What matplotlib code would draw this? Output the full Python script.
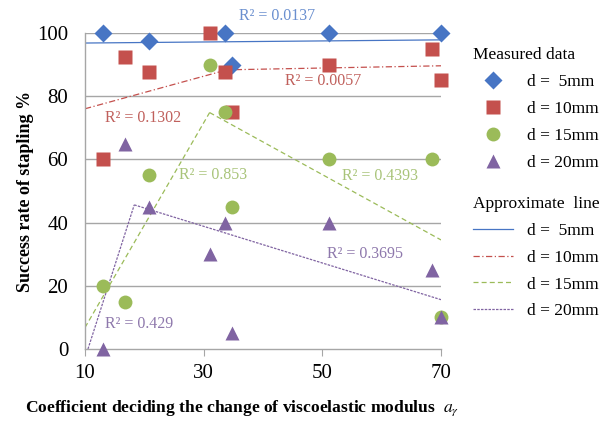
import matplotlib
matplotlib.use("Agg")
import matplotlib.pyplot as plt
from matplotlib.lines import Line2D

plt.rcParams['font.family'] = ['Liberation Serif', 'DejaVu Serif']
plt.rcParams['mathtext.fontset'] = 'stix'

# Coefficient a_gamma for each test
a_gamma = [13, 16.8, 20.8, 31, 33.6, 34.8, 51.2, 68.4, 70]

# Success rate (%) per staple size d
rate_5 = [100, None, 97.5, None, 100, 90, 100, None, 100]
rate_10 = [60, 92.5, 87.5, 100, 87.5, 75, 90, 95, 85]
rate_15 = [20, 15, 55, 90, 75, 45, 60, 60, 10]
rate_20 = [0, 65, 45, 30, 40, 5, 40, 25, 10]

# Approximate lines: (x, y) end points of each segment
fit_5 = [([10, 70], [96.8, 97.8])]
fit_10 = [([10, 33.3], [76, 88.0]), ([33.3, 70], [88.3, 89.6])]
fit_15 = [([10, 31], [6.8, 74.8]), ([31, 70], [74.8, 34.5])]
fit_20 = [([10.5, 18.3], [0, 45.6]), ([18.3, 70], [45.6, 15.6])]

# R^2 labels: (x, y, text)
r2_5 = [(42.4, 105.2, "R² = 0.0137")]
r2_10 = [(50.1, 84.9, "R² = 0.0057"), (19.8, 73.2, "R² = 0.1302")]
r2_15 = [(31.6, 54.9, "R² = 0.853"), (59.7, 54.6, "R² = 0.4393")]
r2_20 = [(57.2, 30.0, "R² = 0.3695"), (19.1, 7.9, "R² = 0.429")]

labels = ["d =  5mm", "d = 10mm", "d = 15mm", "d = 20mm"]
colors = ["#4775C4", "#C4504D", "#9BBB59", "#8064A2"]
text_colors = ["#6A8FCF", "#C0605C", "#A9C47A", "#8E78AC"]
markers = ["D", "s", "o", "^"]
msizes = [9, 9.5, 10, 9.5]
dashes = [None, (5, 2, 1, 2), (4, 2.5), (2, 1)]

rates = [rate_5, rate_10, rate_15, rate_20]
fits = [fit_5, fit_10, fit_15, fit_20]
r2s = [r2_5, r2_10, r2_15, r2_20]

fig = plt.figure(figsize=(6.05, 4.22), dpi=100)
ax = fig.add_axes([0.1405, 0.173, 0.5885, 0.749])

grid_c = "#A6A6A6"
for yv in [20, 40, 60, 80, 100]:
    ax.axhline(yv, color=grid_c, lw=1.0, zorder=1)

marker_handles = []
line_handles = []
for i in range(4):
    # fitted segments
    for xs, ys in fits[i]:
        ln = ax.plot(xs, ys, color=colors[i], lw=0.9, zorder=2)[0]
        if dashes[i] is not None:
            ln.set_dashes(dashes[i])
    # measured points
    px = [x for x, y in zip(a_gamma, rates[i]) if y is not None]
    py = [y for y in rates[i] if y is not None]
    ax.plot(px, py, linestyle="none", marker=markers[i], ms=msizes[i],
            color=colors[i], mec="none", zorder=3 + i, clip_on=False)
    for tx, ty, s in r2s[i]:
        ax.text(tx, ty, s, color=text_colors[i], fontsize=11.5,
                ha="center", va="center", zorder=10)

    marker_handles.append(Line2D([], [], linestyle="none", marker=markers[i],
                                 ms=msizes[i], color=colors[i], mec="none"))
    h = Line2D([], [], color=colors[i], lw=0.9)
    if dashes[i] is not None:
        h.set_dashes(dashes[i])
    line_handles.append(h)

ax.set_xlim(10, 70)
ax.set_ylim(0, 100)
ax.set_xticks([10, 30, 50, 70])
ax.set_yticks([0, 20, 40, 60, 80, 100])
ax.tick_params(axis="x", direction="out", length=5, color=grid_c,
               labelsize=15, pad=6)
ax.tick_params(axis="y", length=0, labelsize=15, pad=12)

for side in ["top", "right"]:
    ax.spines[side].set_visible(False)
for side in ["left", "bottom"]:
    ax.spines[side].set_color(grid_c)
    ax.spines[side].set_linewidth(1.0)

ax.set_ylabel("Success rate of stapling %", fontsize=13, fontweight="bold",
              labelpad=2)
ax.set_xlabel(r"Coefficient deciding the change of viscoelastic modulus  $a_\gamma$",
              fontsize=12.6, fontweight="bold")
ax.xaxis.set_label_coords(0.44, -0.155)

leg_kw = dict(frameon=False, fontsize=12.5, title_fontsize=12.5,
              handlelength=2.3, handletextpad=0.8, labelspacing=0.62,
              borderpad=0, borderaxespad=0, loc="upper left",
              bbox_transform=fig.transFigure, alignment="left")
leg1 = ax.legend(marker_handles, labels, title="Measured data",
                 bbox_to_anchor=(0.782, 0.888), **leg_kw)
ax.add_artist(leg1)
leg2 = ax.legend(line_handles, labels, title="Approximate  line",
                 bbox_to_anchor=(0.782, 0.536), **leg_kw)

fig.savefig("out.png", dpi=100)
